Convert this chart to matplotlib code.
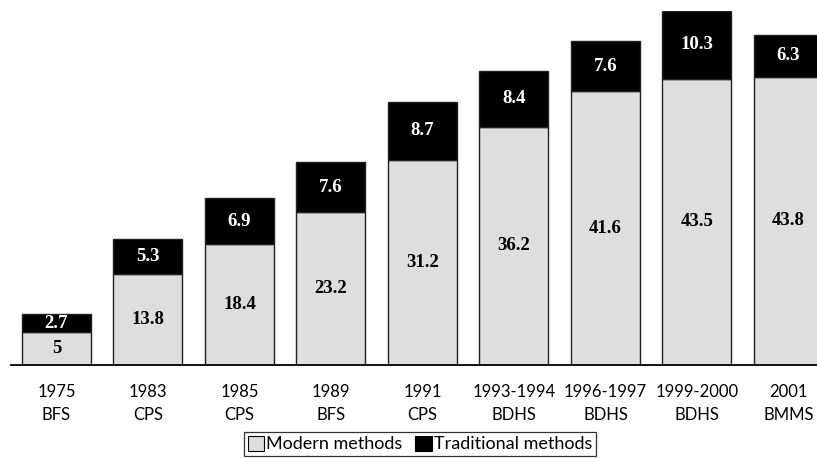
import matplotlib
matplotlib.use("Agg")
import matplotlib.pyplot as plt
import numpy as np
from matplotlib.patches import Patch

# data
surveys = ["1975\nBFS", "1983\nCPS", "1985\nCPS", "1989\nBFS", "1991\nCPS",
           "1993-1994\nBDHS", "1996-1997\nBDHS", "1999-2000\nBDHS", "2001\nBMMS"]
modern = [5, 13.8, 18.4, 23.2, 31.2, 36.2, 41.6, 43.5, 43.8]
traditional = [2.7, 5.3, 6.9, 7.6, 8.7, 8.4, 7.6, 10.3, 6.3]

light = "#dedede"
dark = "#000000"
label_font = "Lato"
value_font = "Liberation Serif"

W, H = 817, 458
fig = plt.figure(figsize=(W / 100, H / 100), dpi=100)
ax = fig.add_axes([11 / W, 93 / H, 806 / W, 354.3 / H])

x = np.arange(len(surveys))
width = 0.754
ax.bar(x, modern, width, color=light, edgecolor="#222222", linewidth=1.0)
ax.bar(x, traditional, width, bottom=modern, color=dark, edgecolor="#222222", linewidth=1.0)

for xi, m, t in zip(x, modern, traditional):
    ax.text(xi, m / 2, f"{m:g}", ha="center", va="center", fontsize=13.5,
            fontweight="bold", family=value_font, color="black")
    ax.text(xi, m + t / 2, f"{t:g}", ha="center", va="center", fontsize=13.5,
            fontweight="bold", family=value_font, color="white")

ax.set_xlim(-0.497, 8.312)
ax.set_ylim(0, 53.8)
ax.set_xticks(x)
ax.set_xticklabels(surveys, fontsize=12, family=label_font, linespacing=1.5)
ax.tick_params(axis="x", length=0, pad=14)
ax.set_yticks([])
for side in ["top", "left", "right"]:
    ax.spines[side].set_visible(False)
ax.spines["bottom"].set_linewidth(1.3)
ax.spines["bottom"].set_color("black")

handles = [Patch(facecolor=light, edgecolor="black", linewidth=0.8, label="Modern methods"),
           Patch(facecolor=dark, edgecolor="black", linewidth=0.8, label="Traditional methods")]
leg = fig.legend(handles=handles, loc="center", bbox_to_anchor=(420 / W, 1 - 444 / H),
                 ncol=2, frameon=True, fancybox=False,
                 prop={"family": label_font, "size": 13},
                 handlelength=0.9, handleheight=0.9, handletextpad=0.12,
                 columnspacing=0.7, borderpad=0.2, borderaxespad=0)
leg.get_frame().set_edgecolor("black")
leg.get_frame().set_linewidth(0.9)

fig.savefig("out.png", dpi=100)
